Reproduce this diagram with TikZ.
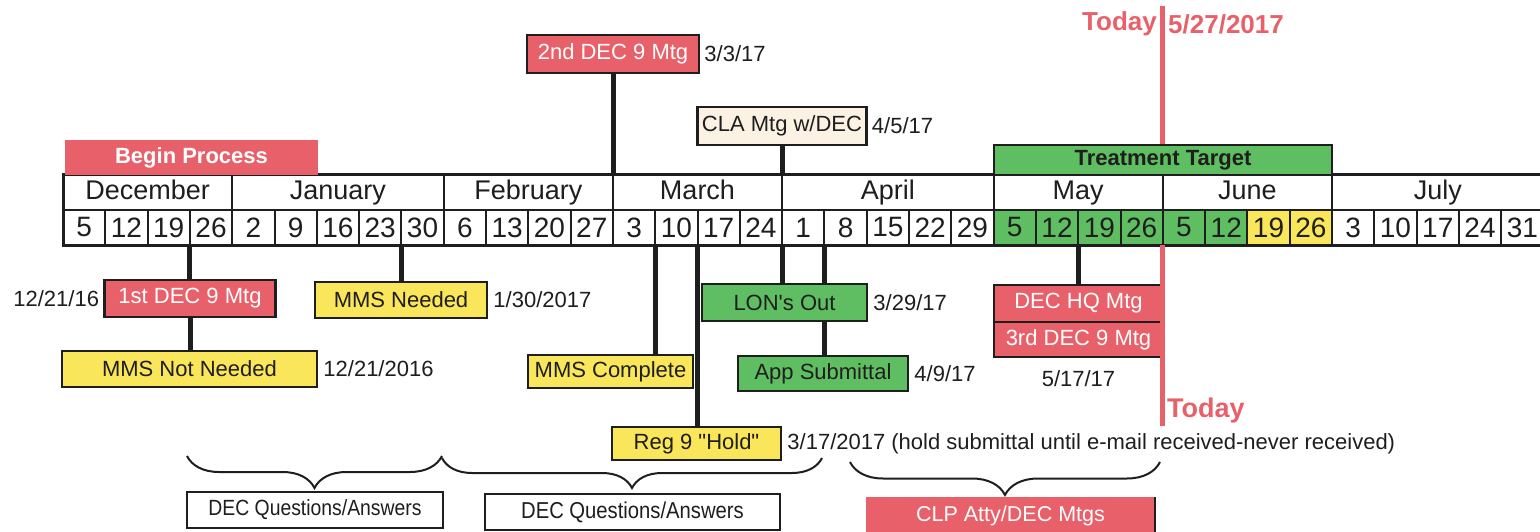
\documentclass[tikz,border=0pt]{standalone}
\usepackage{fontspec}
\setmainfont{Liberation Sans}
\newfontfamily\narrowfont[FakeStretch=0.88]{Liberation Sans}
\usetikzlibrary{positioning,decorations.pathreplacing}
\definecolor{mtgred}{RGB}{232,96,106}
\definecolor{okgreen}{RGB}{96,190,98}
\definecolor{mmsyellow}{RGB}{250,230,90}
\definecolor{cream}{RGB}{251,242,228}
\definecolor{ink}{RGB}{30,30,30}
\newcommand{\wk}{42.3}
\begin{document}
\begin{tikzpicture}[x=1pt,y=-1pt,
  weekcell/.style={draw=ink, line width=2pt, minimum width=42.3pt, minimum height=35pt, inner sep=0pt, outer sep=0pt, text=ink, font=\fontsize{28}{30}\selectfont},
  monthcell/.style={draw=ink, line width=2pt, minimum height=35pt, inner sep=0pt, outer sep=0pt, text=ink, text height=20pt, text depth=5pt, font=\fontsize{27}{29}\selectfont},
  evt/.style={draw=ink, line width=2.5pt, inner sep=0pt, text=ink, font=\fontsize{22}{24}\selectfont},
  redevt/.style={evt, fill=mtgred, text=white},
  datelbl/.style={inner sep=0pt, text=ink, font=\fontsize{22}{24}\selectfont},
  stem/.style={draw=ink, line width=5pt},
  todayline/.style={draw=mtgred, line width=5pt},
  todaylbl/.style={inner sep=0pt, text=mtgred, font=\bfseries\fontsize{26}{28}\selectfont},
  qabrace/.style={draw=ink, line width=2pt, decorate, decoration={brace, amplitude=#1}},
]
\useasboundingbox (0,0) rectangle (1540,532);

% timeline
\foreach \d/\c [count=\i from 0] in {5/white,12/white,19/white,26/white,2/white,9/white,16/white,23/white,30/white,6/white,13/white,20/white,27/white,3/white,10/white,17/white,24/white,1/white,8/white,15/white,22/white,29/white,5/okgreen,12/okgreen,19/okgreen,26/okgreen,5/okgreen,12/okgreen,19/mmsyellow,26/mmsyellow,3/white,10/white,17/white,24/white,31/white}
  \node[weekcell, fill=\c] (w\i) at ({63+(\i+0.5)*\wk},227.5) {\d};
\foreach \m/\a/\n in {December/0/4,January/4/5,February/9/4,March/13/4,April/17/5,May/22/4,June/26/4,July/30/5}
  \node[monthcell, minimum width=\n*\wk pt] (\m) at ({63+(\a+\n/2)*\wk},192.5) {\m};
\draw[draw=ink, line width=3pt] (December.north west) rectangle (w34.south east);

\node[fill=mtgred, minimum width=253pt, minimum height=35pt, inner sep=0pt, text=white, font=\bfseries\fontsize{22}{24}\selectfont] (begin) at (191.5,157.5) {Begin Process};
\node[evt, fill=okgreen, minimum width=338pt, minimum height=30pt, font=\bfseries\fontsize{22}{24}\selectfont] (treat) at (1163,160) {Treatment Target};

% above the line
\node[redevt, minimum width=172pt, minimum height=38pt] (dec2) at (613,54) {2nd DEC 9 Mtg};
\node[datelbl, right=4pt of dec2] (dec2date) {3/3/17};
\node[evt, fill=cream, minimum width=169pt, minimum height=38pt] (cla) at (782,126) {CLA Mtg w/DEC};
\node[datelbl, right=4pt of cla] (cladate) {4/5/17};

% below the line
\node[redevt, minimum width=171pt, minimum height=37pt] (dec1) at (190,298.5) {1st DEC 9 Mtg};
\node[datelbl, left=4pt of dec1] (dec1date) {12/21/16};
\node[evt, fill=mmsyellow, minimum width=255pt, minimum height=36pt] (mmsnot) at (189.5,369) {MMS Not Needed};
\node[datelbl, right=5pt of mmsnot] (mmsnotdate) {12/21/2016};
\node[evt, fill=mmsyellow, minimum width=172pt, minimum height=36pt] (mmsneed) at (401,300) {MMS Needed};
\node[datelbl, right=5pt of mmsneed] (mmsneeddate) {1/30/2017};
\node[evt, fill=mmsyellow, minimum width=165pt, minimum height=33pt] (mmscomp) at (610.5,371.5) {MMS Complete};
\node[evt, fill=okgreen, minimum width=165pt, minimum height=37pt] (lon) at (784.5,302.5) {LON\textquotesingle s Out};
\node[datelbl, right=5pt of lon] (londate) {3/29/17};
\node[evt, fill=okgreen, minimum width=170pt, minimum height=35pt] (app) at (823,373.5) {App Submittal};
\node[datelbl, right=5pt of app] (appdate) {4/9/17};
\node[evt, fill=mmsyellow, minimum width=169pt, minimum height=33pt] (hold) at (696.5,443.5) {Reg 9 \textquotedbl Hold\textquotedbl};
\node[datelbl, right=5pt of hold] (holddate) {3/17/2017 (hold submittal until e-mail received-never received)};
\node[redevt, minimum width=169pt, minimum height=37pt] (dechq) at (1078.5,303.5) {DEC HQ Mtg};
\node[redevt, minimum width=169pt, minimum height=35pt] (dec3) at (1078.5,339.5) {3rd DEC 9 Mtg};
\node[datelbl, below=12pt of dec3] (dec3date) {5/17/17};

% bottom
\node[evt, fill=white, minimum width=256pt, minimum height=36pt, font=\narrowfont\fontsize{22}{24}\selectfont] (qa1) at (315,510) {DEC Questions/Answers};
\node[evt, fill=white, minimum width=295pt, minimum height=36pt, font=\narrowfont\fontsize{23}{25}\selectfont] (qa2) at (632.5,512) {DEC Questions/Answers};
\node[fill=mtgred, minimum width=289pt, minimum height=38pt, inner sep=0pt, text=white, font=\fontsize{21.5}{24}\selectfont] (clp) at (1010.5,516) {CLP Atty/DEC Mtgs};
\draw[draw=ink, line width=2.5pt] (clp.north east) -- (clp.south east);

\coordinate (b1l) at (187,456);
\coordinate (b1r) at (442,456);
\coordinate (b2r) at (822,458);
\coordinate (b3l) at (850,462);
\coordinate (b3r) at (1160,462);
\draw[qabrace=32pt] (b1r) -- (b1l);
\draw[qabrace=30pt] (b2r) -- (b1r |- b2r);
\draw[qabrace=33pt] (b3r) -- (b3l);

% stems
\draw[stem] (dec2.south) -- (dec2.south |- March.north);
\draw[stem] (cla.south) -- (cla.south |- April.north);
\draw[stem] (w3.south west) -- (w3.south west |- dec1.north);
\draw[stem] (dec1.south) -- (dec1.south |- mmsnot.north);
\draw[stem] (w8.south west) -- (w8.south west |- mmsneed.north);
\draw[stem] (w14.south west) -- (w14.south west |- mmscomp.north);
\draw[stem] (w15.south west) -- (w15.south west |- hold.north);
\draw[stem] (w17.south west) -- (w17.south west |- lon.north);
\draw[stem] (w18.south west) -- (w18.south west |- lon.north);
\draw[stem] (w18.south west |- lon.south) -- (w18.south west |- app.north);
\draw[stem] (w24.south west) -- (w24.south west |- dechq.north);

% today
\coordinate (todaytop) at (w26.south west |- 0,6);
\coordinate (todaybot) at (w26.south west |- 0,426);
\draw[todayline] (todaytop) -- (todaytop |- treat.north);
\draw[todayline] (w26.south west) -- (todaybot);
\node[todaylbl, anchor=east] (todaytxt) at (1157,24) {Today};
\node[todaylbl, anchor=west] (todaydate) at (1168,24) {5/27/2017};
\node[todaylbl, anchor=west, font=\bfseries\fontsize{27}{29}\selectfont] (todaylow) at (1167,411) {Today};
\end{tikzpicture}
\end{document}
